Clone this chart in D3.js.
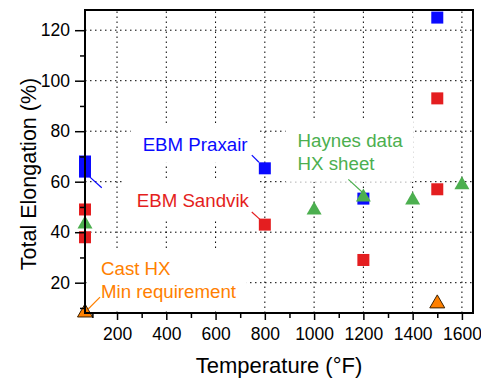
<!DOCTYPE html>
<html>
<head>
<meta charset="utf-8">
<script src="https://cdn.jsdelivr.net/npm/d3@7"></script>
<style>
  body { margin: 0; background: #fff; }
  svg { display: block; font-family: "Liberation Sans", Arial, sans-serif; }
</style>
</head>
<body>
<svg id="chart" width="481" height="379"></svg>
<script>
// Data
const praxairTemp = [70, 70, 800, 1200, 1500];
const praxairElong = [68, 64, 65.3, 53.3, 125];
const sandvikTemp = [70, 70, 800, 1200, 1500, 1500];
const sandvikElong = [49, 38, 43, 29, 93, 57];
const haynesTemp = [70, 1000, 1200, 1400, 1600];
const haynesElong = [44, 49.6, 54.7, 53.5, 59.6];
const castTemp = [70, 1500];
const castElong = [9, 12.6];

const xMajor = [200, 400, 600, 800, 1000, 1200, 1400, 1600];
const xMinor = [100, 300, 500, 700, 900, 1100, 1300, 1500];
const yMajor = [20, 40, 60, 80, 100, 120];
const yMinor = [10, 30, 50, 70, 90, 110];

const svg = d3.select("#chart"),
    width = +svg.attr("width"),
    height = +svg.attr("height");
const margin = {top: 10, right: 8, bottom: 66, left: 85};

const x = d3.scaleLinear().domain([70, 1645]).range([margin.left, width - margin.right]);
const y = d3.scaleLinear().domain([8, 128]).range([height - margin.bottom, margin.top]);

const blue = "#0a0aff", red = "#e41e20", green = "#4caf4f", orange = "#ff8000";

// grid
const grid = svg.append("g").attr("stroke", "#000").attr("stroke-width", 1)
    .attr("stroke-dasharray", "1.5,3.5");
grid.selectAll(".vg").data(xMajor).enter().append("line")
    .attr("x1", d => x(d)).attr("x2", d => x(d))
    .attr("y1", y.range()[0]).attr("y2", y.range()[1]);
grid.selectAll(".hg").data(yMajor).enter().append("line")
    .attr("y1", d => y(d)).attr("y2", d => y(d))
    .attr("x1", x.range()[0]).attr("x2", x.range()[1]);

// annotations (positions given in data units)
const notes = [
    {lines: ["EBM Praxair"], color: blue, at: [304, 72.2],
     leaders: [[[90, 61.8], [138, 57.6]], [[747, 70.5], [776, 67.7]]]},
    {lines: ["EBM Sandvik"], color: red, at: [280, 49.8],
     leaders: [[[747, 48], [780, 45.1]]]},
    {lines: ["Haynes data", "HX sheet"], color: green, at: [933, 73.8],
     leaders: [[[1139, 60.9], [1198, 55.6]]]},
    {lines: ["Cast HX", "Min requirement"], color: orange, at: [135, 22.9],
     leaders: [[[131, 14.3], [83, 9.6]]]}
];

const noteG = svg.append("g");
notes.forEach(function(n) {
    const g = noteG.append("g");
    const t = g.append("text")
        .attr("x", x(n.at[0])).attr("y", y(n.at[1]))
        .attr("fill", n.color).style("font-size", "18.7px");
    n.lines.forEach(function(s, i) {
        t.append("tspan").attr("x", x(n.at[0])).attr("dy", i ? 23 : 0).text(s);
    });
    const bb = t.node().getBBox();
    g.insert("rect", "text")
        .attr("x", bb.x - 12).attr("y", bb.y - 10)
        .attr("width", bb.width + 22).attr("height", bb.height + 18)
        .attr("fill", "#fff");
    n.leaders.forEach(function(l) {
        g.append("line")
            .attr("x1", x(l[0][0])).attr("y1", y(l[0][1]))
            .attr("x2", x(l[1][0])).attr("y2", y(l[1][1]))
            .attr("stroke", n.color).attr("stroke-width", 1.2);
    });
});

// markers
function squares(temps, vals, color) {
    svg.append("g").selectAll("rect").data(temps).enter().append("rect")
        .attr("x", d => x(d) - 6)
        .attr("y", (d, i) => y(vals[i]) - 6)
        .attr("width", 12).attr("height", 12)
        .attr("fill", color);
}
function triangles(temps, vals, color, stroke) {
    svg.append("g").selectAll("path").data(temps).enter().append("path")
        .attr("transform", (d, i) => "translate(" + x(d) + "," + y(vals[i]) + ")")
        .attr("d", "M0,-6.5L7.5,6.5L-7.5,6.5Z")
        .attr("fill", color)
        .attr("stroke", stroke || "none").attr("stroke-width", 1);
}
squares(sandvikTemp, sandvikElong, red);
squares(praxairTemp, praxairElong, blue);
triangles(haynesTemp, haynesElong, green);
triangles(castTemp, castElong, orange, "#3a2000");

// axes
const x0 = y.range()[0];
svg.append("g").attr("transform", "translate(0," + x0 + ")")
    .call(d3.axisBottom(x).tickValues(xMinor).tickSize(5).tickFormat(""))
    .call(g => g.select(".domain").remove())
    .selectAll("line").attr("stroke-width", 1.5);
const xAxis = svg.append("g").attr("transform", "translate(0," + x0 + ")")
    .call(d3.axisBottom(x).tickValues(xMajor).tickSize(7).tickPadding(8)
        .tickFormat(d3.format("d")).tickSizeOuter(0));
xAxis.select(".domain").remove();
xAxis.selectAll("line").attr("stroke-width", 1.5);
xAxis.selectAll("text").style("font-size", "17.5px").attr("fill", "#000").style("font-family", "Liberation Sans, Arial");

svg.append("g").attr("transform", "translate(" + margin.left + ",0)")
    .call(d3.axisLeft(y).tickValues(yMinor.filter(v => v > 8)).tickSize(5).tickFormat(""))
    .call(g => g.select(".domain").remove())
    .selectAll("line").attr("stroke-width", 1.5);
const yAxis = svg.append("g").attr("transform", "translate(" + margin.left + ",0)")
    .call(d3.axisLeft(y).tickValues(yMajor).tickSize(10).tickPadding(5).tickSizeOuter(0));
yAxis.select(".domain").remove();
yAxis.selectAll("line").attr("stroke-width", 1.5);
yAxis.selectAll("text").style("font-size", "17.5px").attr("fill", "#000").style("font-family", "Liberation Sans, Arial");

// frame
svg.append("rect")
    .attr("x", x.range()[0]).attr("y", y.range()[1])
    .attr("width", x.range()[1] - x.range()[0])
    .attr("height", y.range()[0] - y.range()[1])
    .attr("fill", "none").attr("stroke", "#000").attr("stroke-width", 2);

// titles
svg.append("text")
    .attr("x", 279).attr("y", 373)
    .attr("text-anchor", "middle").style("font-size", "22px").attr("fill", "#000")
    .text("Temperature (°F)");
svg.append("text")
    .attr("transform", "translate(36,174) rotate(-90)")
    .attr("text-anchor", "middle").style("font-size", "21.5px").attr("fill", "#000")
    .text("Total Elongation (%)");
</script>
</body>
</html>
